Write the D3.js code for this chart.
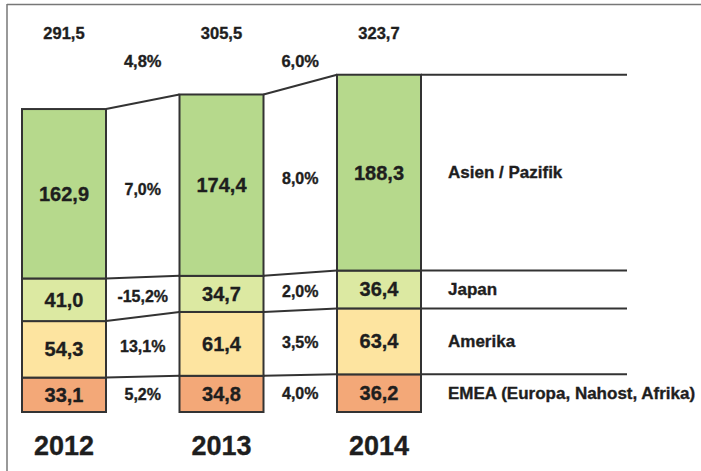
<!DOCTYPE html>
<html>
<head>
<meta charset="utf-8">
<script src="https://cdn.jsdelivr.net/npm/d3@7"></script>
<style>
  body { margin: 0; background: #fff; }
  svg { display: block; }
  text { font-family: "Liberation Sans", Arial, Helvetica, sans-serif; font-weight: bold; fill: #1e1e1e; stroke: #1e1e1e; stroke-width: 0.35px; }
</style>
</head>
<body>
<div id="chart"></div>
<script>
// data
var years = ["2012", "2013", "2014"];
var regions = ["EMEA (Europa, Nahost, Afrika)", "Amerika", "Japan", "Asien / Pazifik"];
var emea = [33.1, 34.8, 36.2];
var amerika = [54.3, 61.4, 63.4];
var japan = [41.0, 34.7, 36.4];
var asien = [162.9, 174.4, 188.3];
var totals = [291.5, 305.5, 323.7];
var totalGrowth = ["4,8%", "6,0%"];
var growthEmea = ["5,2%", "4,0%"];
var growthAmerika = ["13,1%", "3,5%"];
var growthJapan = ["-15,2%", "2,0%"];
var growthAsien = ["7,0%", "8,0%"];

var colors = ["#f3a878", "#fde4a0", "#dce9a2", "#b6d98c"];

var width = 701, height = 471;
var base = 412, barW = 84;

var svg = d3.select("#chart")
  .append("svg")
  .attr("width", width)
  .attr("height", height);

// frame
svg.append("line").attr("x1", 7).attr("x2", width).attr("y1", 4.5).attr("y2", 4.5)
  .attr("stroke", "#777").attr("stroke-width", 1.5);
svg.append("line").attr("x1", 7).attr("x2", 7).attr("y1", 4).attr("y2", height)
  .attr("stroke", "#777").attr("stroke-width", 1.5);

var de = d3.formatLocale({ decimal: ",", thousands: ".", grouping: [3], currency: ["", " €"] });
var fmt = de.format(".1f");

var table = years.map(function (y, i) {
  return { year: y, r0: emea[i], r1: amerika[i], r2: japan[i], r3: asien[i] };
});
var keys = ["r0", "r1", "r2", "r3"];
var series = d3.stack().keys(keys)(table);
var growth = [growthEmea, growthAmerika, growthJapan, growthAsien];

var x = d3.scalePoint().domain(years).range([64, 379]);
var y = d3.scaleLinear().domain([0, 330]).range([base, base - 330 * 1.04]);

// connector lines between bars and legend lines
series.forEach(function (s) {
  for (var i = 0; i < years.length - 1; i++) {
    svg.append("line")
      .attr("x1", x(years[i]) + barW / 2).attr("y1", y(s[i][1]))
      .attr("x2", x(years[i + 1]) - barW / 2).attr("y2", y(s[i + 1][1]))
      .attr("stroke", "#333").attr("stroke-width", 2);
  }
  var last = years.length - 1;
  svg.append("line")
    .attr("x1", x(years[last]) + barW / 2).attr("y1", y(s[last][1]))
    .attr("x2", 627).attr("y2", y(s[last][1]))
    .attr("stroke", "#333").attr("stroke-width", 2);
});

// bars
series.forEach(function (s, k) {
  svg.selectAll(".seg" + k)
    .data(s)
    .enter()
    .append("rect")
    .attr("x", function (d) { return x(d.data.year) - barW / 2; })
    .attr("y", function (d) { return y(d[1]); })
    .attr("width", barW)
    .attr("height", function (d) { return y(d[0]) - y(d[1]); })
    .attr("fill", colors[k])
    .attr("stroke", "#333")
    .attr("stroke-width", 2);

  svg.selectAll(".val" + k)
    .data(s)
    .enter()
    .append("text")
    .attr("x", function (d) { return x(d.data.year); })
    .attr("y", function (d) { return (y(d[0]) + y(d[1])) / 2; })
    .attr("text-anchor", "middle")
    .attr("dominant-baseline", "central")
    .style("font-size", "20px")
    .text(function (d) { return fmt(d[1] - d[0]); });

  // growth between years
  growth[k].forEach(function (g, i) {
    var cy = ((y(s[i][0]) + y(s[i][1])) / 2 + (y(s[i + 1][0]) + y(s[i + 1][1])) / 2) / 2;
    svg.append("text")
      .attr("x", (x(years[i]) + x(years[i + 1])) / 2)
      .attr("y", cy)
      .attr("text-anchor", "middle")
      .attr("dominant-baseline", "central")
      .style("font-size", "16px")
      .text(g);
  });

  // legend label
  var l = s[years.length - 1];
  svg.append("text")
    .attr("x", 448)
    .attr("y", (y(l[0]) + y(l[1])) / 2)
    .attr("dominant-baseline", "central")
    .style("font-size", "17px")
    .text(regions[k]);
});

// totals
svg.selectAll(".total")
  .data(totals)
  .enter()
  .append("text")
  .attr("x", function (d, i) { return x(years[i]); })
  .attr("y", 33)
  .attr("text-anchor", "middle")
  .attr("dominant-baseline", "central")
  .style("font-size", "16.5px")
  .text(function (d) { return fmt(d); });

svg.selectAll(".tgrowth")
  .data(totalGrowth)
  .enter()
  .append("text")
  .attr("x", function (d, i) { return (x(years[i]) + x(years[i + 1])) / 2; })
  .attr("y", 61)
  .attr("text-anchor", "middle")
  .attr("dominant-baseline", "central")
  .style("font-size", "16.5px")
  .text(function (d) { return d; });

// year labels
svg.selectAll(".year")
  .data(years)
  .enter()
  .append("text")
  .attr("x", function (d) { return x(d); })
  .attr("y", 446)
  .attr("text-anchor", "middle")
  .attr("dominant-baseline", "central")
  .style("font-size", "27px")
  .text(function (d) { return d; });
</script>
</body>
</html>
